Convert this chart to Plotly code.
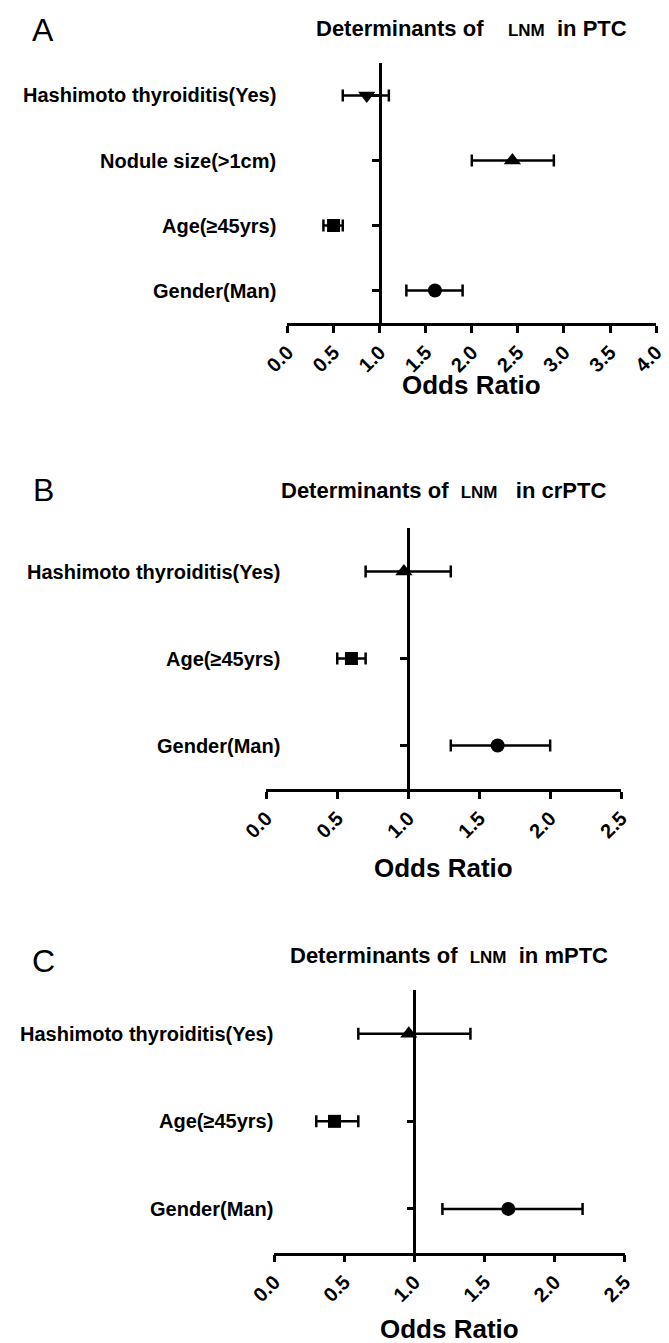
import plotly.graph_objects as go

# the page body keeps its 8px margin, so the figure is drawn 8px smaller
# and every reference pixel position is shifted by OFF
OFF = 8
W, H = 669 - OFF, 1343 - OFF
FONT = "Liberation Sans"
INK = "#000000"

# ---- data ----
A_labels = ["Hashimoto thyroiditis(Yes)", "Nodule size(>1cm)", "Age(≥45yrs)", "Gender(Man)"]
A_or = [0.86, 2.44, 0.50, 1.60]
A_lo = [0.60, 2.00, 0.39, 1.29]
A_hi = [1.10, 2.89, 0.60, 1.90]

B_labels = ["Hashimoto thyroiditis(Yes)", "Age(≥45yrs)", "Gender(Man)"]
B_or = [0.97, 0.60, 1.63]
B_lo = [0.70, 0.50, 1.30]
B_hi = [1.30, 0.70, 2.00]

C_labels = ["Hashimoto thyroiditis(Yes)", "Age(≥45yrs)", "Gender(Man)"]
C_or = [0.96, 0.43, 1.67]
C_lo = [0.60, 0.30, 1.20]
C_hi = [1.40, 0.60, 2.20]

# ---- styling ----
A_symbols = ["triangle-down", "triangle-up", "square", "circle"]
B_symbols = ["triangle-up", "square", "circle"]
C_symbols = ["triangle-up", "square", "circle"]
SIZE = {"circle": 14, "square": 13, "triangle-up": 15, "triangle-down": 15}
NB = "\u00a0"

# box = (x of 0.0, x of max, top of plot, axis line) in reference pixels
panels = [
    dict(letter="A", place="PTC", labels=A_labels, orr=A_or, lo=A_lo, hi=A_hi,
         symbols=A_symbols, xmax=4.0, box=(276.7, 666.0, 63, 323),
         title_y=28, xtitle_y=385, lab_x=267, letter_xy=(19, 30), gaps=(4, 2)),
    dict(letter="B", place="crPTC", labels=B_labels, orr=B_or, lo=B_lo, hi=B_hi,
         symbols=B_symbols, xmax=2.5, box=(254.3, 629.0, 528, 789),
         title_y=491, xtitle_y=868, lab_x=271, letter_xy=(19, 490), gaps=(2, 3)),
    dict(letter="C", place="mPTC", labels=C_labels, orr=C_or, lo=C_lo, hi=C_hi,
         symbols=C_symbols, xmax=2.5, box=(262.7, 632.7, 990, 1252.7),
         title_y=955, xtitle_y=1329, lab_x=264, letter_xy=(19, 961), gaps=(2, 2)),
]


def px(x):
    return (x - OFF) / W


def py(y):
    return 1 - (y - OFF) / H


fig = go.Figure()
annotations = []
layout = {}

for i, p in enumerate(panels, start=1):
    sfx = "" if i == 1 else str(i)
    x0, x1, ytop, ybot = p["box"]
    n = len(p["labels"])

    fig.add_trace(go.Scatter(
        x=p["orr"], y=p["labels"], mode="markers",
        xaxis="x" + sfx, yaxis="y" + sfx,
        marker=dict(symbol=p["symbols"], size=[SIZE[s] for s in p["symbols"]],
                    color=INK, opacity=1, line=dict(width=0)),
        error_x=dict(type="data", symmetric=False,
                     array=[h - o for h, o in zip(p["hi"], p["orr"])],
                     arrayminus=[o - l for o, l in zip(p["orr"], p["lo"])],
                     color=INK, thickness=2.5, width=6),
        showlegend=False, cliponaxis=False,
    ))

    layout["xaxis" + sfx] = dict(
        domain=[px(x0), px(x1)], anchor="y" + sfx,
        range=[0, p["xmax"]], tick0=0, dtick=0.5, tickformat=".1f", tickangle=-45,
        ticks="outside", ticklen=7, tickwidth=2.5, tickcolor=INK,
        showline=True, linewidth=2.5, linecolor=INK,
        showgrid=False, zeroline=False,
        tickfont=dict(family=FONT, size=20, color=INK, weight="bold"),
    )
    # y axis line drawn at OR = 1
    layout["yaxis" + sfx] = dict(
        domain=[py(ybot), py(ytop)], anchor="free",
        position=px(x0 + (1.0 / p["xmax"]) * (x1 - x0)),
        type="category", categoryorder="array", categoryarray=p["labels"][::-1],
        range=[-0.5, n - 0.5],
        showline=True, linewidth=2.5, linecolor=INK,
        ticks="outside", ticklen=7, tickwidth=2.5, tickcolor=INK,
        showticklabels=False, showgrid=False, zeroline=False,
    )

    for lab in p["labels"]:
        annotations.append(dict(
            x=px(p["lab_x"]), xref="paper", y=lab, yref="y" + sfx,
            xanchor="right", yanchor="middle", showarrow=False, text=lab,
            font=dict(family=FONT, size=20, color=INK, weight="bold"),
        ))

    g1, g2 = p["gaps"]
    title = (f"Determinants of{NB * g1}<span style='font-size:17px'>LNM</span>"
             f"{NB * g2}in {p['place']}")
    annotations.append(dict(
        x=px((x0 + x1) / 2), xref="paper", y=py(p["title_y"]), yref="paper",
        xanchor="center", yanchor="middle", showarrow=False, text=title,
        font=dict(family=FONT, size=22, color=INK, weight="bold"),
    ))
    annotations.append(dict(
        x=px((x0 + x1) / 2), xref="paper", y=py(p["xtitle_y"]), yref="paper",
        xanchor="center", yanchor="middle", showarrow=False, text="Odds Ratio",
        font=dict(family=FONT, size=26, color=INK, weight="bold"),
    ))
    lx, ly = p["letter_xy"]
    annotations.append(dict(
        x=px(lx), xref="paper", y=py(ly), yref="paper",
        xanchor="center", yanchor="middle", showarrow=False, text=p["letter"],
        font=dict(family=FONT, size=32, color=INK),
    ))

fig.update_layout(
    width=W, height=H, autosize=False,
    margin=dict(l=0, r=0, t=0, b=0),
    paper_bgcolor="white", plot_bgcolor="white",
    font=dict(family=FONT, color=INK),
    annotations=annotations,
    **layout,
)

fig.write_html("out.html")
